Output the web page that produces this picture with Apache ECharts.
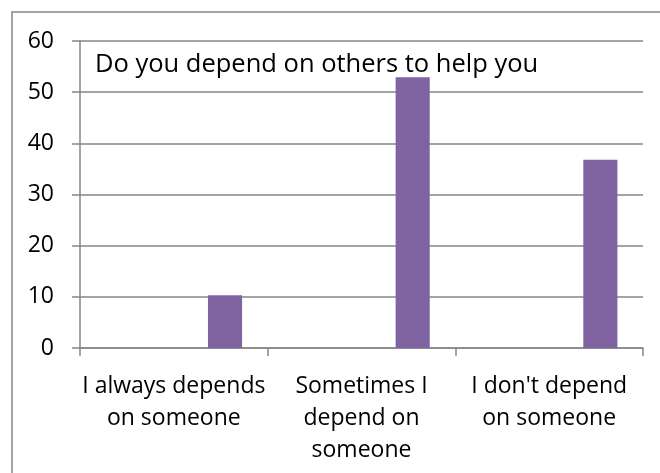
<!DOCTYPE html>
<html>
<head>
<meta charset="utf-8">
<script src="https://cdn.jsdelivr.net/npm/echarts@6/dist/echarts.min.js"></script>
<style>
  html, body { margin: 0; padding: 0; background: #ffffff; }
  #chart { width: 660px; height: 473px; }
</style>
</head>
<body>
<div id="chart"></div>
<script>
// Survey answers and their shares (percent)
const categories = [
  "I always depends\non someone",
  "Sometimes I\ndepend on\nsomeone",
  "I don't depend\non someone"
];
const responses = [10.3, 52.9, 36.8];
// Unused series slots that share each category band with the answered series
const blankSeries1 = [null, null, null];
const blankSeries2 = [null, null, null];
const blankSeries3 = [null, null, null];
const yTicks = { min: 0, max: 60, interval: 10 };
const chartTitle = "Do you depend on others to help you";

const FONT = "Open Sans";
const GRAY = "#868686";
const BAR = "#8064A2";

const chart = echarts.init(document.getElementById("chart"), null, { renderer: "canvas" });

function bar(name, data) {
  return {
    name: name,
    type: "bar",
    data: data,
    barGap: "0%",
    barCategoryGap: "27.27%",
    itemStyle: { color: BAR },
    silent: true,
    animation: false
  };
}

chart.setOption({
  animation: false,
  backgroundColor: "#ffffff",
  grid: { left: 80, right: 17, top: 41, bottom: 125, containLabel: false },
  xAxis: {
    type: "category",
    data: categories,
    boundaryGap: true,
    axisLine: { show: true, lineStyle: { color: GRAY, width: 1.5 } },
    axisTick: { show: true, length: 8, inside: false, alignWithLabel: false, lineStyle: { color: GRAY, width: 1.5 } },
    axisLabel: {
      interval: 0,
      margin: 22,
      color: "#000000",
      fontFamily: FONT,
      fontSize: 23,
      lineHeight: 32,
      verticalAlign: "top",
      align: "center"
    },
    splitLine: { show: false }
  },
  yAxis: {
    type: "value",
    min: yTicks.min,
    max: yTicks.max,
    interval: yTicks.interval,
    axisLine: { show: true, lineStyle: { color: GRAY, width: 1.5 } },
    axisTick: { show: true, length: 8, lineStyle: { color: GRAY, width: 1.5 } },
    axisLabel: { margin: 26, color: "#000000", fontFamily: FONT, fontSize: 23, align: "right" },
    splitLine: { show: true, lineStyle: { color: GRAY, width: 1.5 } }
  },
  series: [
    bar("s1", blankSeries1),
    bar("s2", blankSeries2),
    bar("s3", blankSeries3),
    bar("responses", responses)
  ],
  graphic: [
    {
      type: "rect",
      shape: { x: 12, y: 12, width: 700, height: 520 },
      style: { fill: null, stroke: GRAY, lineWidth: 1.5 },
      silent: true,
      z: 0
    },
    {
      type: "text",
      x: 95,
      y: 65,
      style: {
        text: chartTitle,
        fill: "#000000",
        font: "25.5px 'Open Sans'",
        verticalAlign: "middle",
        align: "left"
      },
      silent: true,
      z: 10
    }
  ]
});
</script>
</body>
</html>
